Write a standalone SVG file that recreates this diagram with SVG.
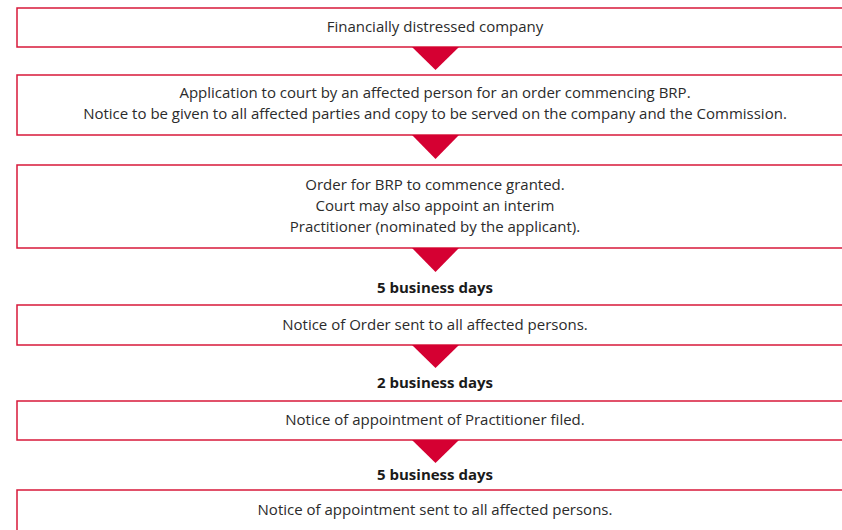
<svg xmlns="http://www.w3.org/2000/svg" width="842" height="530" viewBox="0 0 842 530">
<style>
.box{fill:#fff;stroke:#d7193a;stroke-width:1.5}
.tri{fill:#d50032}
text{font-family:"Open Sans","Liberation Sans",Arial,sans-serif;font-size:15px;fill:#2b2b2b;text-anchor:middle}
.b{font-weight:bold;fill:#1a1a1a}
</style>
<rect width="842" height="530" fill="#fff"/>
<g id="n1"><rect class="box" x="17" y="8" width="830" height="39"/><text x="435" y="32">Financially distressed company</text></g>
<g id="n2"><rect class="box" x="17" y="75" width="830" height="60"/><text x="435" y="98">Application to court by an affected person for an order commencing BRP.</text><text x="435" y="119">Notice to be given to all affected parties and copy to be served on the company and the Commission.</text></g>
<g id="n3"><rect class="box" x="17" y="165" width="830" height="83"/><text x="435" y="190">Order for BRP to commence granted.</text><text x="435" y="211">Court may also appoint an interim</text><text x="435" y="232">Practitioner (nominated by the applicant).</text></g>
<g id="n4"><rect class="box" x="17" y="305" width="830" height="40"/><text x="435" y="330">Notice of Order sent to all affected persons.</text></g>
<g id="n5"><rect class="box" x="17" y="401" width="830" height="39"/><text x="435" y="425">Notice of appointment of Practitioner filed.</text></g>
<g id="n6"><rect class="box" x="17" y="490" width="830" height="50"/><text x="435" y="515">Notice of appointment sent to all affected persons.</text></g>
<g id="connectors">
<polygon class="tri" points="412,47 459,47 435.5,70"/>
<polygon class="tri" points="412,135 459,135 435.5,159"/>
<polygon class="tri" points="412,248 459,248 435.5,272"/>
<polygon class="tri" points="412,345 459,345 435.5,368"/>
<polygon class="tri" points="412,440 459,440 435.5,463"/>
<text class="b" x="435" y="293">5 business days</text>
<text class="b" x="435" y="388">2 business days</text>
<text class="b" x="435" y="480">5 business days</text>
</g>
</svg>
